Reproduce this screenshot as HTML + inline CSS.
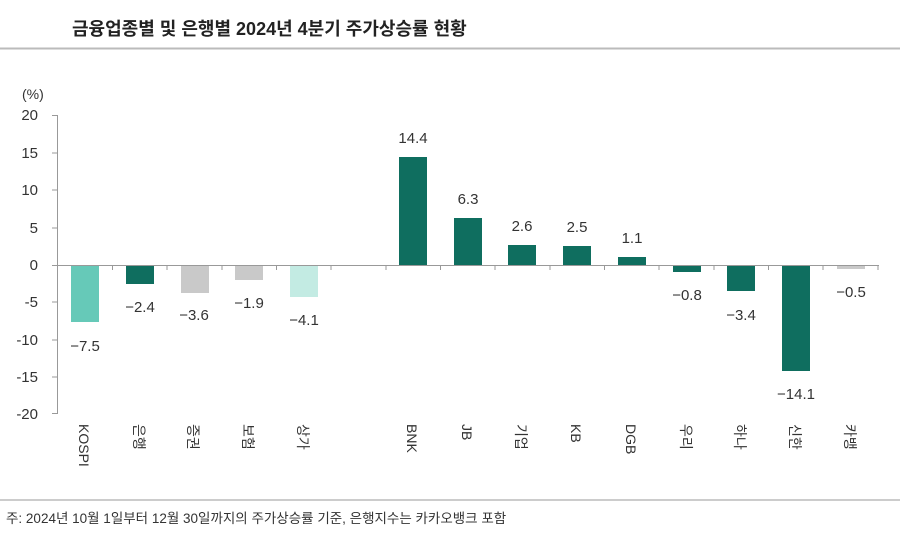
<!DOCTYPE html>
<html><head><meta charset="utf-8"><style>
body{margin:0;background:#fff;width:900px;height:537px;overflow:hidden}
svg{display:block}
text{font-family:"Liberation Sans","Noto Sans CJK KR",sans-serif;fill:#333}
</style></head><body>
<svg width="900" height="537" viewBox="0 0 900 537">
<text x="72" y="35" font-size="18" font-weight="bold" fill="#222" style="fill:#222">금융업종별 및 은행별 2024년 4분기 주가상승률 현황</text>
<line x1="0" y1="48.5" x2="900" y2="48.5" stroke="#bbb" stroke-width="2"/>
<text x="22" y="99" font-size="14">(%)</text>
<g font-size="15" text-anchor="end">
<text x="38" y="120">20</text><text x="38" y="158">15</text><text x="38" y="195">10</text><text x="38" y="233">5</text><text x="38" y="270">0</text>
<text x="38" y="307">-5</text><text x="38" y="345">-10</text><text x="38" y="382">-15</text><text x="38" y="419">-20</text>
</g>
<g stroke="#999" stroke-width="1">
<line x1="57.5" y1="115" x2="57.5" y2="414"/>
<line x1="52" y1="115.5" x2="57" y2="115.5"/><line x1="52" y1="153" x2="57" y2="153"/><line x1="52" y1="190" x2="57" y2="190"/><line x1="52" y1="228" x2="57" y2="228"/><line x1="52" y1="302" x2="57" y2="302"/><line x1="52" y1="340" x2="57" y2="340"/><line x1="52" y1="377" x2="57" y2="377"/><line x1="52" y1="413.5" x2="57" y2="413.5"/>
<line x1="52" y1="265.5" x2="879" y2="265.5"/>
</g>
<g stroke="#999"><line x1="112.5" y1="265" x2="112.5" y2="270"/><line x1="167" y1="265" x2="167" y2="270"/><line x1="222" y1="265" x2="222" y2="270"/><line x1="276.5" y1="265" x2="276.5" y2="270"/><line x1="331" y1="265" x2="331" y2="270"/><line x1="386" y1="265" x2="386" y2="270"/><line x1="440.5" y1="265" x2="440.5" y2="270"/><line x1="495" y1="265" x2="495" y2="270"/><line x1="550" y1="265" x2="550" y2="270"/><line x1="604.5" y1="265" x2="604.5" y2="270"/><line x1="659" y1="265" x2="659" y2="270"/><line x1="714" y1="265" x2="714" y2="270"/><line x1="768.5" y1="265" x2="768.5" y2="270"/><line x1="823" y1="265" x2="823" y2="270"/><line x1="878" y1="265" x2="878" y2="270"/></g>
<!-- bars -->
<rect x="71" y="266" width="28" height="56" fill="#66c9b8"/>
<rect x="126" y="266" width="28" height="18" fill="#0f6e5f"/>
<rect x="181" y="266" width="28" height="27" fill="#c9c9c9"/>
<rect x="235" y="266" width="28" height="14" fill="#c9c9c9"/>
<rect x="290" y="266" width="28" height="31" fill="#c3ebe3"/>
<rect x="399" y="157" width="28" height="108" fill="#0f6e5f"/>
<rect x="454" y="218" width="28" height="47" fill="#0f6e5f"/>
<rect x="508" y="245" width="28" height="20" fill="#0f6e5f"/>
<rect x="563" y="246" width="28" height="19" fill="#0f6e5f"/>
<rect x="618" y="257" width="28" height="8" fill="#0f6e5f"/>
<rect x="673" y="266" width="28" height="6" fill="#0f6e5f"/>
<rect x="727" y="266" width="28" height="25" fill="#0f6e5f"/>
<rect x="782" y="266" width="28" height="105" fill="#0f6e5f"/>
<rect x="837" y="266" width="28" height="3" fill="#c9c9c9"/>
<g font-size="15" text-anchor="middle">
<text x="85" y="351">−7.5</text><text x="140" y="312">−2.4</text><text x="194" y="320">−3.6</text><text x="249" y="308">−1.9</text><text x="304" y="325">−4.1</text>
<text x="413" y="143">14.4</text><text x="468" y="204">6.3</text><text x="522" y="231">2.6</text><text x="577" y="232">2.5</text><text x="632" y="243">1.1</text>
<text x="687" y="300">−0.8</text><text x="741" y="320">−3.4</text><text x="796" y="399">−14.1</text><text x="851" y="297">−0.5</text>
</g>
<g font-size="14">
<text transform="translate(79,424) rotate(90)">KOSPI</text>
<text transform="translate(134,424) rotate(90)">은행</text>
<text transform="translate(188,424) rotate(90)">증권</text>
<text transform="translate(243,424) rotate(90)">보험</text>
<text transform="translate(298,424) rotate(90)">상가</text>
<text transform="translate(407,424) rotate(90)">BNK</text>
<text transform="translate(462,424) rotate(90)">JB</text>
<text transform="translate(516,424) rotate(90)">기업</text>
<text transform="translate(571,424) rotate(90)">KB</text>
<text transform="translate(626,424) rotate(90)">DGB</text>
<text transform="translate(681,424) rotate(90)">우리</text>
<text transform="translate(735,424) rotate(90)">하나</text>
<text transform="translate(790,424) rotate(90)">신한</text>
<text transform="translate(845,424) rotate(90)">카뱅</text>
</g>
<line x1="0" y1="500" x2="900" y2="500" stroke="#bbb" stroke-width="1.5"/>
<text x="6" y="523" font-size="13.5">주: 2024년 10월 1일부터 12월 30일까지의 주가상승률 기준, 은행지수는 카카오뱅크 포함</text>
</svg>
</body></html>
